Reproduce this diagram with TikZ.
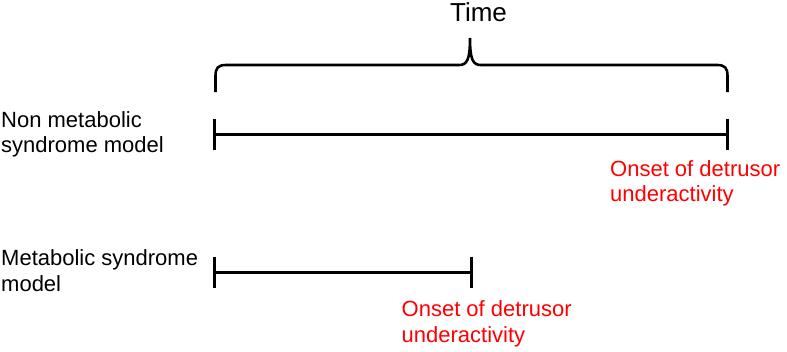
\documentclass[tikz,border=0pt]{standalone}
\usepackage{fontspec}
\setmainfont{Liberation Sans}
\begin{document}
\begin{tikzpicture}[x=1pt,y=-1pt,
  lbl/.style={inner sep=0pt,anchor=base west,align=left,font=\fontsize{22}{25.5}\selectfont},
  redlbl/.style={lbl,text={rgb,255:red,255;green,0;blue,0}},
  bar/.style={line width=3pt,black},
  bracepath/.style={line width=2.6pt,black}]
\useasboundingbox (0,0) rectangle (787,351);
% title
\node[inner sep=0pt,anchor=base,font=\fontsize{26}{30}\selectfont] (time) at (478.5,21.7) {Time};
% brace
\coordinate (bl) at (215.5,92);
\coordinate (br) at (727.5,92);
\coordinate (tip) at (470,38);
\draw[bracepath] (bl) -- (215.5,76) .. controls (215.5,68) and (218,65) .. (226,65)
  -- (459,65) .. controls (467,65) and (470,60) .. (tip)
  .. controls (470,60) and (473,65) .. (481,65)
  -- (717,65) .. controls (725,65) and (727.5,68) .. (727.5,76) -- (br);
% row labels (anchor = baseline of last line)
\node[lbl] (nonmet) at (1,152.7) {Non metabolic\\syndrome model};
\node[lbl] (met) at (1,291) {Metabolic syndrome\\model};
% timeline 1
\coordinate (a1) at (214.5,134);
\coordinate (b1) at (727.5,134);
\draw[bar] (a1) -- (b1);
\draw[bar] ([yshift=15.5pt]a1) -- ([yshift=-15.5pt]a1);
\draw[bar] ([yshift=15.5pt]b1) -- ([yshift=-15.5pt]b1);
% timeline 2
\coordinate (a2) at (214.5,272);
\coordinate (b2) at (471.5,272);
\draw[bar] (a2) -- (b2);
\draw[bar] ([yshift=15.5pt]a2) -- ([yshift=-15.5pt]a2);
\draw[bar] ([yshift=15.5pt]b2) -- ([yshift=-15.5pt]b2);
% onset labels
\node[redlbl] (onset1) at (610,201.5) {Onset of detrusor\\underactivity};
\node[redlbl] (onset2) at (401.5,342) {Onset of detrusor\\underactivity};
\end{tikzpicture}
\end{document}
